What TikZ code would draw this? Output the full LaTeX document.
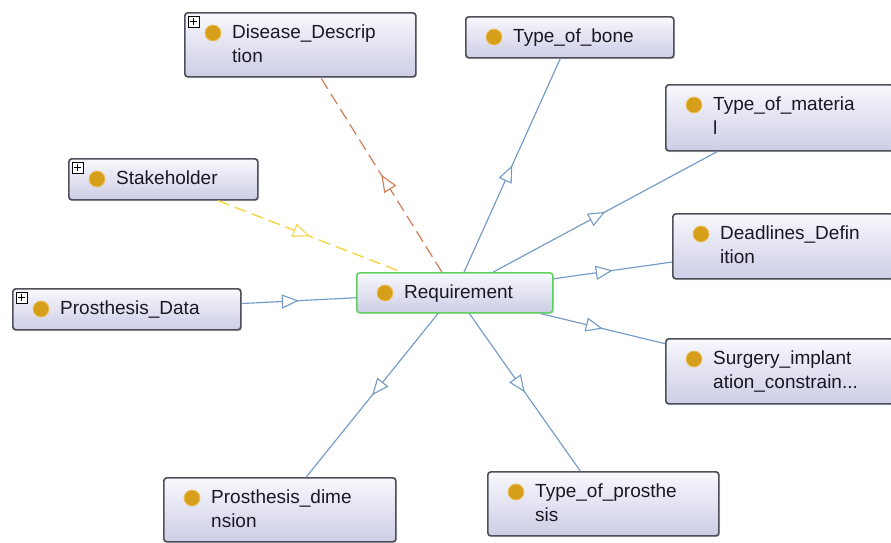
\documentclass[tikz,border=0pt]{standalone}
\usepackage{fontspec}
\setmainfont{Liberation Sans}
\usetikzlibrary{calc,arrows.meta,decorations.markings,shadows}
\definecolor{edgeblue}{RGB}{115,155,198}
\definecolor{dashorange}{RGB}{208,125,85}
\definecolor{dashyellow}{RGB}{245,215,70}
\definecolor{boxborder}{RGB}{80,80,90}
\definecolor{greenb}{RGB}{95,210,95}
\definecolor{dotc}{RGB}{215,158,25}
\definecolor{dotring}{RGB}{235,195,100}
\definecolor{boxtop}{RGB}{248,248,253}
\definecolor{boxbot}{RGB}{205,205,230}
\definecolor{txt}{RGB}{25,25,35}
\tikzset{
  ogbox/.style={draw=boxborder, line width=1.7pt, rounded corners=3pt,
    top color=boxtop, bottom color=boxbot, inner sep=0pt,
    drop shadow={opacity=0.25, shadow xshift=1.2pt, shadow yshift=-1.2pt}},
  reqbox/.style={draw=greenb, line width=1.5pt},
  ogdot/.style={circle, fill=dotc, draw=dotring, line width=0.8pt, minimum size=16pt, inner sep=0pt},
  oglbl/.style={anchor=north west, inner sep=0pt, align=left, text=txt,
    font=\fontsize{19}{23.5}\selectfont},
  ogplus/.style={draw=black, fill=white, line width=0.7pt, minimum size=11pt, inner sep=0pt,
    anchor=north west,
    path picture={\draw[line width=0.8pt]
      ([xshift=2pt]path picture bounding box.west) -- ([xshift=-2pt]path picture bounding box.east)
      ([yshift=-2pt]path picture bounding box.north) -- ([yshift=2pt]path picture bounding box.south);}},
  midtri/.style={postaction={decorate}, decoration={markings,
    mark=at position 0.5 with {\arrow{Triangle[length=17pt,width=14pt,fill=white,line width=1.1pt]}}}},
  isa/.style={draw=edgeblue, line width=1.15pt, midtri},
  propy/.style={draw=dashyellow, line width=1.4pt, dash pattern=on 12pt off 6pt, midtri},
  propo/.style={draw=dashorange, line width=1.2pt, dash pattern=on 12pt off 6pt, midtri},
}
\newcommand{\ogclass}[7]{%
  \node[ogbox,#2,minimum width=#5pt,minimum height=#6pt,anchor=north west] (#1) at (#3,#4) {};
  \node[ogdot] (#1-dot) at ($(#1.north west)+(29,21)$) {};
  \node[oglbl] (#1-lbl) at ($(#1.north west)+(48,10)$) {#7};
}
\newcommand{\ogplus}[1]{\node[ogplus] (#1-plus) at ($(#1.north west)+(4,4)$) {};}
\begin{document}
\begin{tikzpicture}[x=1pt,y=-1pt]
\fill[white] (0,0) rectangle (891,542);
\useasboundingbox (0,0) rectangle (891,542);

\ogclass{disease}{}{184}{12}{231}{64}{\strut Disease\_Descrip\\\strut tion}
\ogplus{disease}
\ogclass{bone}{}{465}{16}{208}{41}{\strut Type\_of\_bone}
\ogclass{material}{}{665}{84}{228}{66}{\strut Type\_of\_materia\\\strut l}
\ogclass{stake}{}{68}{158}{189}{41}{\strut Stakeholder}
\ogplus{stake}
\ogclass{deadlines}{}{672}{213}{221}{65}{\strut Deadlines\_Defin\\\strut ition}
\ogclass{req}{reqbox}{356}{272}{196}{40}{\strut Requirement}
\ogclass{pdata}{}{12}{288}{228}{41}{\strut Prosthesis\_Data}
\ogplus{pdata}
\ogclass{surgery}{}{665}{338}{228}{65}{\strut Surgery\_implant\\\strut ation\_constrain...}
\ogclass{tprost}{}{487}{471}{231}{64}{\strut Type\_of\_prosthe\\\strut sis}
\ogclass{pdim}{}{163}{477}{232}{64}{\strut Prosthesis\_dime\\\strut nsion}

\draw[isa] (req) -- (bone);
\draw[isa] (req) -- (material);
\draw[isa] (req) -- (deadlines);
\draw[isa] (req) -- (surgery);
\draw[isa] (req) -- (tprost);
\draw[isa] (req) -- (pdim);
\draw[isa] (pdata) -- (req);
\draw[propy] (stake) -- (req);
\draw[propo] (req) -- (disease);
\end{tikzpicture}
\end{document}
